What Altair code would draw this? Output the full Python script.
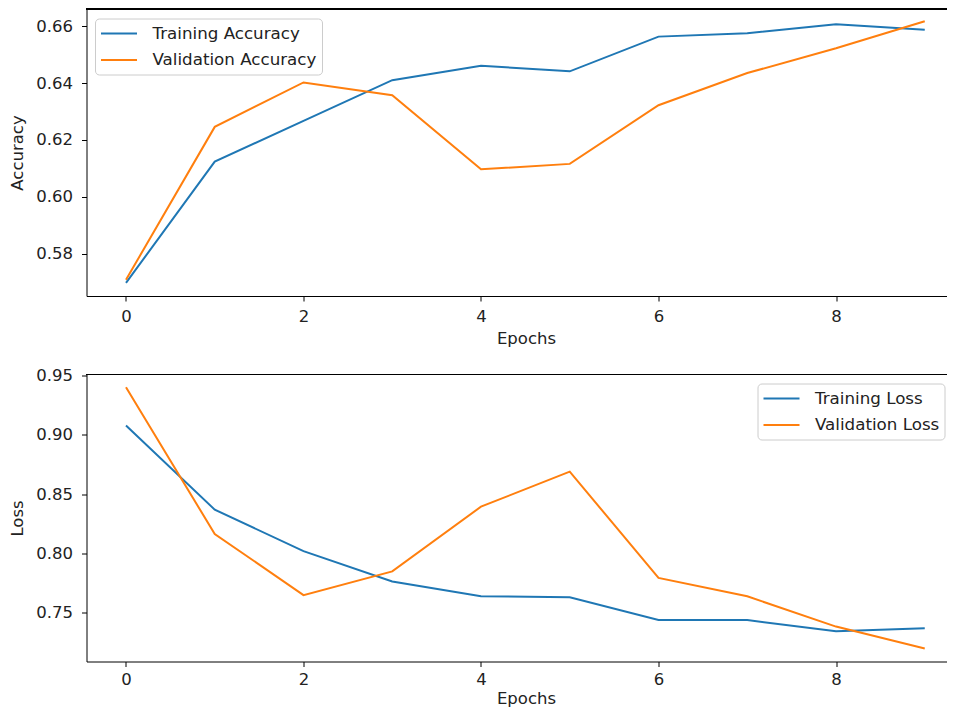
import altair as alt
import pandas as pd

epochs = [0, 1, 2, 3, 4, 5, 6, 7, 8, 9]
train_acc = [0.5698, 0.6124, 0.6267, 0.6410, 0.6461, 0.6441, 0.6563, 0.6575, 0.6606, 0.6587]
val_acc = [0.5709, 0.6246, 0.6402, 0.6357, 0.6097, 0.6116, 0.6322, 0.6435, 0.6522, 0.6617]
train_loss = [0.9078, 0.8370, 0.8020, 0.7765, 0.7640, 0.7632, 0.7440, 0.7440, 0.7345, 0.7372]
val_loss = [0.9400, 0.8165, 0.7650, 0.7850, 0.8395, 0.8690, 0.7795, 0.7640, 0.7385, 0.7201]

acc_names = ["Training Accuracy", "Validation Accuracy"]
loss_names = ["Training Loss", "Validation Loss"]
colors = ["#1f77b4", "#ff7f0e"]
x_ticks = [0, 2, 4, 6, 8]
acc_ticks = [0.58, 0.60, 0.62, 0.64, 0.66]
loss_ticks = [0.75, 0.80, 0.85, 0.90, 0.95]

acc_df = pd.DataFrame({
    "Epoch": epochs * 2,
    "Value": train_acc + val_acc,
    "Series": [acc_names[0]] * 10 + [acc_names[1]] * 10,
})
loss_df = pd.DataFrame({
    "Epoch": epochs * 2,
    "Value": train_loss + val_loss,
    "Series": [loss_names[0]] * 10 + [loss_names[1]] * 10,
})

W = 860
FONT = "DejaVu Sans"


def panel(df, names, yticks, ydomain, ytitle, lx, ly, h, label_pad, title_pad):
    x = alt.X(
        "Epoch:Q",
        scale=alt.Scale(domain=[-0.445, 9.245], nice=False, zero=False),
        axis=alt.Axis(values=x_ticks, title="Epochs", format="d", titleX=439.5,
                      titleAlign="center", titlePadding=title_pad,
                      labelPadding=label_pad),
    )
    y = alt.Y(
        "Value:Q",
        scale=alt.Scale(domain=ydomain, nice=False, zero=False),
        axis=alt.Axis(values=yticks, format=".2f", title=ytitle, titlePadding=10,
                      labelPadding=9),
    )
    lines = alt.Chart(df).mark_line(strokeWidth=2).encode(
        x=x,
        y=y,
        color=alt.Color(
            "Series:N",
            scale=alt.Scale(domain=names, range=colors),
            legend=alt.Legend(
                title=None, orient="none", legendX=lx, legendY=ly,
                symbolType="M-1,0H3", symbolSize=324, symbolStrokeWidth=2,
                labelFontSize=16.7, labelFont=FONT, labelColor="#222",
                labelLimit=400,
                fillColor="rgba(255,255,255,0.8)", strokeColor="#cccccc",
                cornerRadius=4, padding=5, rowPadding=7.5, labelOffset=32.5,
            ),
        ),
    )
    top = alt.Chart(df).mark_rule(color="black", strokeWidth=1).encode(
        x=alt.value(0), x2=alt.value(W), y=alt.value(0)
    )
    return alt.layer(lines, top).properties(width=W, height=h)


top_chart = panel(acc_df, acc_names, acc_ticks, [0.5652, 0.666], "Accuracy",
                  8.5, 9.5, 287, 7, 6)
bottom_chart = panel(loss_df, loss_names, loss_ticks, [0.7091, 0.9508], "Loss",
                     671, 9, 287, 5, 2)

chart = alt.vconcat(top_chart, bottom_chart, spacing=19.5).resolve_scale(
    color="independent"
).resolve_legend(color="independent").properties(
    padding={"left": 1.5, "top": 0, "right": 0, "bottom": 0}
).configure(font=FONT).configure_view(stroke=None).configure_axis(
    grid=False,
    domainColor="black",
    tickColor="black",
    tickSize=5,
    labelFontSize=16.5,
    titleFontSize=16.5,
    labelColor="#222",
    titleColor="#222",
    labelFont=FONT,
    titleFont=FONT,
    titleFontWeight="normal",
)

chart.save("out.html", embed_options={"renderer": "svg", "actions": False})
